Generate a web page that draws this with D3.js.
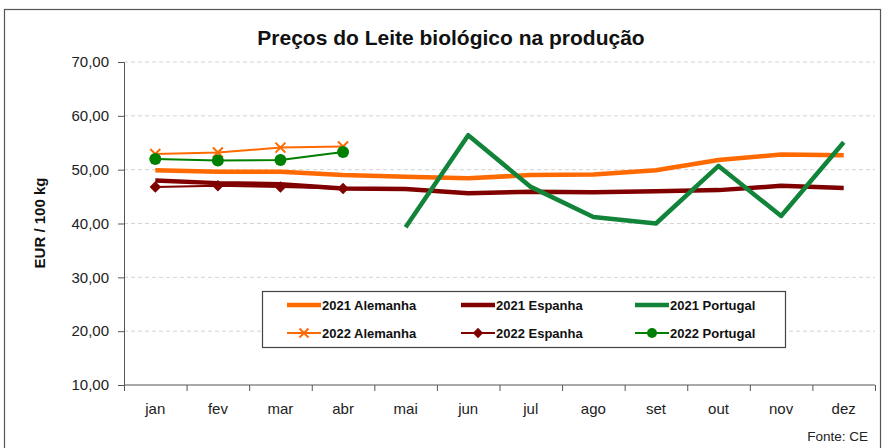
<!DOCTYPE html>
<html>
<head>
<meta charset="utf-8">
<script src="https://cdn.jsdelivr.net/npm/d3@7"></script>
<style>
  body { margin: 0; background: #fff; }
  svg { display: block; font-family: "Liberation Sans", Arial, sans-serif; }
</style>
</head>
<body>
<svg></svg>
<script>
// dados (EUR / 100 kg)
let months = ["jan", "fev", "mar", "abr", "mai", "jun", "jul", "ago", "set", "out", "nov", "dez"];
let alemanha2021 = [49.9, 49.6, 49.6, 49.0, 48.7, 48.4, 49.0, 49.1, 49.9, 51.8, 52.8, 52.7];
let espanha2021 = [48.0, 47.5, 47.3, 46.5, 46.4, 45.6, 45.9, 45.8, 46.0, 46.2, 47.0, 46.6];
let portugal2021 = [null, null, null, null, 39.3, 56.4, 46.8, 41.2, 40.0, 50.7, 41.4, 55.1];
let alemanha2022 = [52.9, 53.2, 54.1, 54.3];
let espanha2022 = [46.8, 47.0, 46.8, 46.5];
let portugal2022 = [52.0, 51.7, 51.8, 53.3];
let yTicks = [10, 20, 30, 40, 50, 60, 70];

let width = 884;
let height = 448;
let plotLeft = 124, plotRight = 875, plotTop = 62, plotBottom = 385;

let orange = "#ff6a00";
let darkRed = "#800000";
let green21 = "#12843a";
let green22 = "#008000";

let series = [
  { name: "2021 Alemanha", values: alemanha2021, color: orange, width: 4.5, marker: null },
  { name: "2021 Espanha", values: espanha2021, color: darkRed, width: 4.5, marker: null },
  { name: "2021 Portugal", values: portugal2021, color: green21, width: 4.5, marker: null },
  { name: "2022 Alemanha", values: alemanha2022, color: orange, width: 2, marker: "x" },
  { name: "2022 Espanha", values: espanha2022, color: darkRed, width: 2, marker: "diamond" },
  { name: "2022 Portugal", values: portugal2022, color: green22, width: 2, marker: "circle" },
];

let svg = d3.select("svg").attr("width", width).attr("height", height);

// moldura
svg.append("rect")
  .attr("x", 4.5).attr("y", 9.5)
  .attr("width", 876).attr("height", 460)
  .attr("fill", "none").attr("stroke", "#555").attr("stroke-width", 1.2);

// título
svg.append("text")
  .attr("x", 451).attr("y", 45)
  .attr("text-anchor", "middle")
  .attr("font-size", 21).attr("font-weight", "bold").attr("fill", "#111")
  .text("Preços do Leite biológico na produção");

let xScale = d3.scaleBand().domain(months).range([plotLeft, plotRight]);
let xTickScale = d3.scaleLinear().domain([0, 12]).range([plotLeft, plotRight]);
let yScale = d3.scaleLinear().domain([10, 70]).range([plotBottom, plotTop]);

// grelha
svg.append("g")
  .selectAll("line")
  .data(yTicks.filter(d => d > 10))
  .enter()
  .append("line")
  .attr("x1", plotLeft).attr("x2", plotRight)
  .attr("y1", d => yScale(d)).attr("y2", d => yScale(d))
  .attr("stroke", "#d4d4d4").attr("stroke-dasharray", "4,3");

// eixo y
let yAxis = d3.axisLeft(yScale)
  .tickValues(yTicks)
  .tickSize(6)
  .tickFormat(d => d3.format(".2f")(d).replace(".", ","));
let gy = svg.append("g").attr("transform", "translate(" + plotLeft + ",0)").call(yAxis);
gy.select(".domain").attr("stroke", "#555");
gy.selectAll(".tick line").attr("stroke", "#555");
gy.selectAll("text").attr("font-size", 15).attr("fill", "#222").attr("x", -15);

// eixo x
let gx = svg.append("g").attr("transform", "translate(0," + plotBottom + ")")
  .call(d3.axisBottom(xTickScale).tickValues(d3.range(13)).tickSize(6).tickFormat(""));
gx.select(".domain").attr("stroke", "#555").attr("d", "M" + plotLeft + ",0H" + plotRight);
gx.selectAll(".tick line").attr("stroke", "#555");

let gxl = svg.append("g").attr("transform", "translate(0," + plotBottom + ")")
  .call(d3.axisBottom(xScale).tickSize(0));
gxl.select(".domain").remove();
gxl.selectAll("text").attr("font-size", 15).attr("fill", "#222").attr("dy", "1.75em");

// rótulo y
svg.append("text")
  .attr("transform", "translate(45,223) rotate(-90)")
  .attr("text-anchor", "middle")
  .attr("font-size", 15).attr("font-weight", "bold").attr("fill", "#111")
  .text("EUR / 100 kg");

// fonte
svg.append("text")
  .attr("x", 868).attr("y", 441)
  .attr("text-anchor", "end")
  .attr("font-size", 13.5).attr("fill", "#222")
  .text("Fonte: CE");

let line = d3.line()
  .defined(d => d != null)
  .x((d, i) => xScale(months[i]) + xScale.bandwidth() / 2)
  .y(d => yScale(d));

let drawMarker = (g, type, color, cx, cy, size) => {
  if (type === "circle") {
    g.append("circle").attr("cx", cx).attr("cy", cy).attr("r", size)
      .attr("fill", color);
  } else if (type === "diamond") {
    let s = size * 1.15;
    g.append("path")
      .attr("d", "M" + cx + "," + (cy - s) + "L" + (cx + s) + "," + cy + "L" + cx + "," + (cy + s) + "L" + (cx - s) + "," + cy + "Z")
      .attr("fill", color);
  } else if (type === "x") {
    let s = size;
    g.append("path")
      .attr("d", "M" + (cx - s) + "," + (cy - s) + "L" + (cx + s) + "," + (cy + s) + "M" + (cx - s) + "," + (cy + s) + "L" + (cx + s) + "," + (cy - s))
      .attr("stroke", color).attr("stroke-width", 2).attr("fill", "none");
  }
};

series.forEach(s => {
  let g = svg.append("g");
  g.append("path")
    .datum(s.values)
    .attr("d", line)
    .attr("fill", "none")
    .attr("stroke", s.color)
    .attr("stroke-width", s.width)
    .attr("stroke-linejoin", "round");
  if (s.marker) {
    s.values.forEach((v, i) => {
      if (v == null) return;
      drawMarker(g, s.marker, s.color, xScale(months[i]) + xScale.bandwidth() / 2, yScale(v), s.marker === "circle" ? 6 : 5);
    });
  }
});

// legenda
let lg = svg.append("g");
lg.append("rect")
  .attr("x", 262.5).attr("y", 291.5)
  .attr("width", 523).attr("height", 56)
  .attr("fill", "#fff").attr("stroke", "#444").attr("stroke-width", 1.2);

let colX = [287, 461, 635];
series.forEach((s, i) => {
  let x0 = colX[i % 3];
  let y0 = i < 3 ? 305 : 333;
  let item = lg.append("g");
  item.append("line")
    .attr("x1", x0).attr("x2", x0 + 34)
    .attr("y1", y0).attr("y2", y0)
    .attr("stroke", s.color).attr("stroke-width", s.width);
  if (s.marker) drawMarker(item, s.marker, s.color, x0 + 17, y0, s.marker === "circle" ? 5 : 4.5);
  item.append("text")
    .attr("x", x0 + 35).attr("y", y0 + 4.5)
    .attr("font-size", 13).attr("font-weight", "bold").attr("fill", "#111")
    .text(s.name);
});
</script>
</body>
</html>
